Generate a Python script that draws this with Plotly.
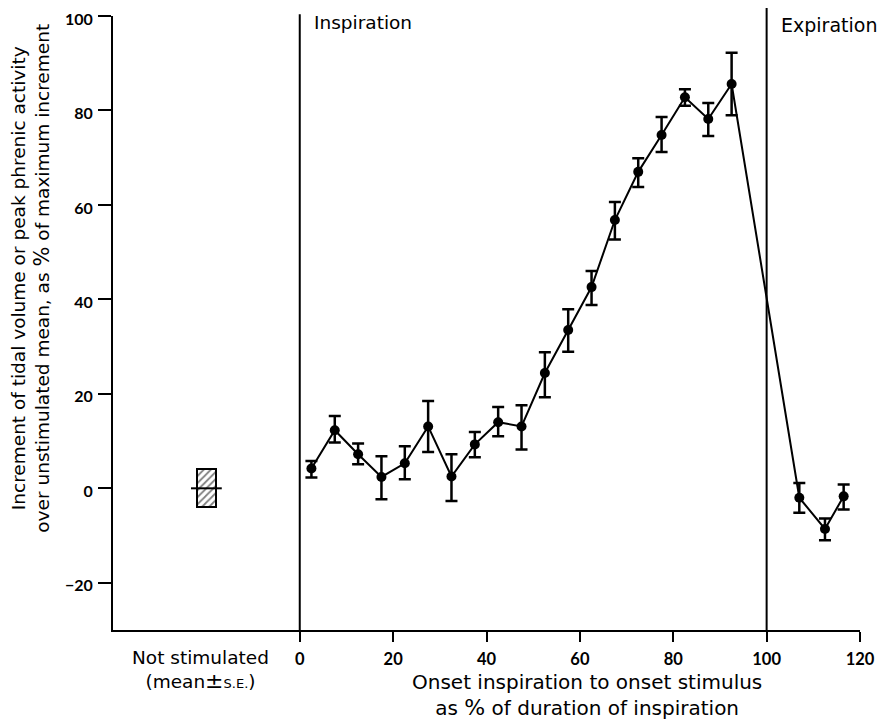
import plotly.graph_objects as go

# Stimulus onset (% of inspiration duration)
x_vals = [2.5, 7.5, 12.5, 17.5, 22.5, 27.5, 32.5, 37.5, 42.5, 47.5,
          52.5, 57.5, 62.5, 67.5, 72.5, 77.5, 82.5, 87.5, 92.5,
          107, 112.5, 116.5]
y_vals = [4.2, 12.3, 7.2, 2.4, 5.3, 13.1, 2.5, 9.3, 14.0, 13.1,
          24.4, 33.5, 42.6, 56.8, 67.0, 74.8, 82.8, 78.2, 85.6,
          -2.0, -8.6, -1.7]
err_up = [1.6, 3.0, 2.3, 4.4, 3.6, 5.4, 4.7, 2.6, 3.2, 4.5,
          4.4, 4.4, 3.4, 3.8, 2.9, 3.8, 1.7, 3.4, 6.6,
          3.1, 2.2, 2.5]
err_down = [1.9, 2.6, 2.1, 4.7, 3.4, 5.4, 5.2, 2.7, 3.0, 4.9,
            5.1, 4.6, 3.8, 4.1, 3.2, 3.6, 1.8, 3.6, 6.6,
            3.2, 2.4, 2.8]

# Not stimulated (mean ± S.E.)
ns_x = -20
ns_mean = 0
ns_se = 4

phase_bounds = [0, 100]
x_ticks = [0, 20, 40, 60, 80, 100, 120]
y_ticks = [-20, 0, 20, 40, 60, 80, 100]
y_ticktext = ["\u221220", "0", "20", "40", "60", "80", "100"]

TICKFONT = "Lato"
FONT = "DejaVu Sans"

fig = go.Figure()

fig.add_trace(go.Bar(
    x=[ns_x], y=[2 * ns_se], base=[ns_mean - ns_se], width=4,
    marker=dict(color="white", line=dict(color="black", width=2),
                pattern=dict(shape="/", fgcolor="black", bgcolor="white",
                             size=5, solidity=0.35)),
    showlegend=False, hoverinfo="skip"))

fig.add_trace(go.Scatter(
    x=[ns_x - 3.3, ns_x + 3.3], y=[ns_mean, ns_mean], mode="lines",
    line=dict(color="black", width=2), showlegend=False, hoverinfo="skip"))

fig.add_trace(go.Scatter(
    x=x_vals, y=y_vals, mode="lines+markers",
    line=dict(color="black", width=2),
    marker=dict(color="black", size=10),
    error_y=dict(type="data", symmetric=False, array=err_up,
                 arrayminus=err_down, color="black", thickness=2.5, width=6),
    showlegend=False))

for b in phase_bounds:
    fig.add_shape(type="line", xref="x", yref="paper", x0=b, x1=b,
                  y0=0, y1=1.0 + (0.014 if b == 100 else 0.003),
                  line=dict(color="black", width=2))

fig.update_xaxes(range=[-40, 120], showline=True, linecolor="black",
                 linewidth=2, ticks="outside", ticklen=10, tickwidth=2,
                 tickcolor="black", tickvals=x_ticks, showgrid=False,
                 zeroline=False, automargin=False, ticklabelstandoff=3,
                 ticklabeloverflow="allow",
                 tickfont=dict(family=TICKFONT, size=16.5, color="black", weight="bold"))
fig.update_yaxes(range=[-30, 100], showline=True, linecolor="black",
                 linewidth=2, ticks="outside", ticklen=13, tickwidth=2,
                 tickcolor="black", tickvals=y_ticks, ticktext=y_ticktext,
                 showgrid=False, zeroline=False, automargin=False,
                 ticklabelstandoff=2, ticklabelshift=3,
                 ticklabeloverflow="allow",
                 tickfont=dict(family=TICKFONT, size=16, color="black", weight="bold"))

annots = [
    dict(x=2.6, y=98.6, xref="x", yref="y", text="Inspiration",
         xanchor="left", yanchor="middle", font=dict(size=18.5)),
    dict(x=102.7, y=98.2, xref="x", yref="y", text="Expiration",
         xanchor="left", yanchor="middle", font=dict(size=19)),
    dict(x=-21.2, y=-0.0245, xref="x", yref="paper",
         text="Not stimulated<br>(mean<span style='font-size:22px'>\u00b1</span><span style='font-size:13px'>S.E.</span>)",
         xanchor="center", yanchor="top", font=dict(size=18.5)),
    dict(x=61.6, y=-0.1495, xref="x", yref="paper",
         text="Onset inspiration to onset stimulus<br>as <span style='font-size:22px'>%</span> of duration of inspiration",
         xanchor="center", yanchor="bottom", font=dict(size=20)),
    dict(x=-0.109, y=44.5, xref="paper", yref="y", textangle=-90,
         text="Increment of tidal volume or peak phrenic activity<br>over unstimulated mean, as <span style='font-size:21px'>%</span> of maximum increment",
         xanchor="center", yanchor="middle", font=dict(size=18.5)),
]
for a in annots:
    a["showarrow"] = False
    a["font"] = dict(family=FONT, color="black", **a["font"])
    fig.add_annotation(**a)

fig.update_layout(
    width=880, height=715,
    margin=dict(l=105, r=28, t=8, b=93),
    plot_bgcolor="white", paper_bgcolor="white",
    font=dict(family=FONT, color="black"),
    bargap=0,
)

fig.write_html("out.html")
